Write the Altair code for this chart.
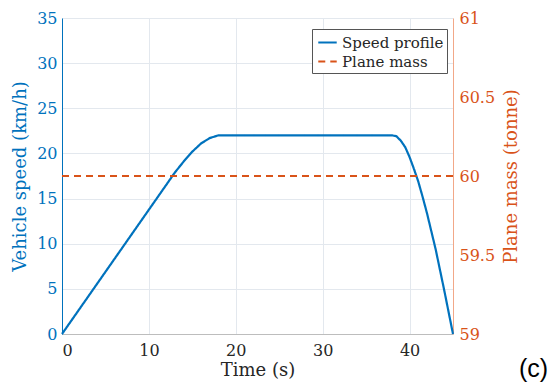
import altair as alt
import pandas as pd

time_s = [0, 13, 14, 15, 16, 17, 18, 38, 38.5, 39, 39.5, 40, 40.5, 41, 41.5, 42, 42.5, 43, 44, 45]
speed_kmh = [0, 17.9, 19.1, 20.2, 21.1, 21.7, 22, 22, 21.9, 21.4, 20.7, 19.6, 18.3, 16.9, 15.2, 13.4, 11.4, 9.4, 4.8, 0]
mass_time = [0, 45]
mass_tonne = [60, 60]
series_names = ["Speed profile", "Plane mass"]

BLUE = "#0072BD"
ORANGE = "#D95319"
FONT = "DejaVu Serif"

speed_df = pd.DataFrame({"t": time_s, "v": speed_kmh, "series": series_names[0]})
mass_df = pd.DataFrame({"t": mass_time, "m": mass_tonne, "series": series_names[1]})

color = alt.Color("series:N", scale=alt.Scale(domain=series_names, range=[BLUE, ORANGE]),
                  legend=alt.Legend(title=None, orient="none", legendX=250, legendY=11,
                                    symbolType="stroke", symbolSize=340, symbolStrokeWidth=2,
                                    labelFont=FONT, labelFontSize=15, labelColor="#262626",
                                    strokeColor="#555555", fillColor="white", padding=3,
                                    rowPadding=0, labelOffset=4, symbolOffset=2, offset=0))
dash = alt.StrokeDash("series:N", scale=alt.Scale(domain=series_names, range=[[1, 0], [7, 5]]),
                      legend=None)

xenc = alt.X("t:Q", title="Time (s)", scale=alt.Scale(domain=[0, 45], nice=False),
             axis=alt.Axis(values=[0, 10, 20, 30, 40], grid=True, gridColor="#e3e8ee",
                           domainColor="#bdbdbd", ticks=False, labelFont=FONT, labelFontSize=16,
                           labelColor="#262626", titleFont=FONT, titleFontSize=18,
                           titleFontWeight="normal", titleColor="#262626", labelPadding=8,
                           titlePadding=3))

speed = alt.Chart(speed_df).mark_line(strokeWidth=2.2).encode(
    x=xenc,
    y=alt.Y("v:Q", title="Vehicle speed (km/h)", scale=alt.Scale(domain=[0, 35], nice=False),
            axis=alt.Axis(values=[0, 5, 10, 15, 20, 25, 30, 35], grid=True, gridColor="#e3e8ee",
                          domainColor=BLUE, ticks=False, labelColor=BLUE, labelFont=FONT,
                          labelFontSize=16, titleFont=FONT, titleFontSize=18,
                          titleFontWeight="normal", titleColor=BLUE, labelPadding=5,
                          titlePadding=7)),
    color=color, strokeDash=dash,
)

mass = alt.Chart(mass_df).mark_line(strokeWidth=2.2).encode(
    x=alt.X("t:Q", scale=alt.Scale(domain=[0, 45], nice=False)),
    y=alt.Y("m:Q", title="Plane mass (tonne)", scale=alt.Scale(domain=[59, 61], nice=False),
            axis=alt.Axis(orient="right", values=[59, 59.5, 60, 60.5, 61], grid=False,
                          domainColor="#f2a888", ticks=False, labelColor=ORANGE,
                          labelExpr="datum.value", labelFont=FONT, labelFontSize=16,
                          titleFont=FONT, titleFontSize=18, titleFontWeight="normal",
                          titleColor=ORANGE, titleAngle=270, labelPadding=6,
                          titlePadding=26)),
    color=color, strokeDash=dash,
)

label = alt.Chart(pd.DataFrame({"txt": ["(c)"]})).mark_text(
    font="Liberation Sans", fontSize=25, align="left", baseline="alphabetic", color="black"
).encode(text="txt:N", x=alt.value(457), y=alt.value(359))

chart = alt.layer(speed, mass, label).resolve_scale(y="independent").properties(
    width=391, height=316,
    autosize=alt.AutoSizeParams(type="none"),
    padding={"left": 62, "top": 18, "right": 105, "bottom": 58},
).configure_view(stroke=None)

chart.save("out.html", embed_options={"renderer": "svg", "actions": False})
